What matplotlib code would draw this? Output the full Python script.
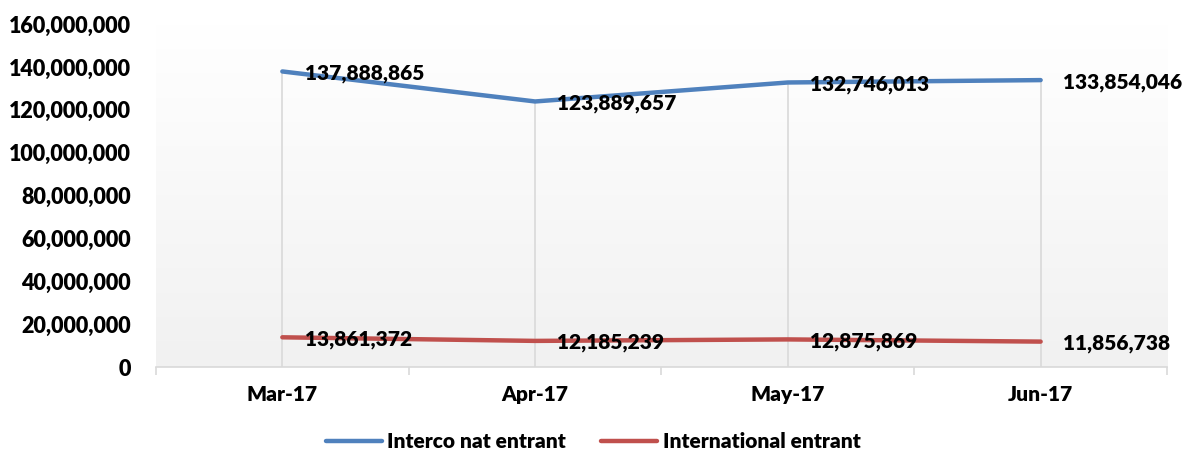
import numpy as np
import matplotlib.pyplot as plt
from matplotlib.ticker import FuncFormatter, FixedLocator

months = ['Mar-17', 'Apr-17', 'May-17', 'Jun-17']
interco_nat = [137888865, 123889657, 132746013, 133854046]
international = [13861372, 12185239, 12875869, 11856738]
y_ticks = [0, 20000000, 40000000, 60000000, 80000000, 100000000, 120000000, 140000000, 160000000]

blue = '#4f81bd'
red = '#c0504d'
axis_color = '#d9d9d9'
fs = 15

plt.rcParams['font.family'] = ['Lato', 'DejaVu Sans']
plt.rcParams['font.weight'] = 'heavy'

fig = plt.figure(figsize=(11.86, 4.54), dpi=100)
ax = fig.add_axes([0.1315, 0.1916, 0.8525, 0.7554])

x = np.arange(len(months))

# gradient background (white at top, light grey at bottom)
grad = np.linspace(1.0, 0.945, 256).reshape(-1, 1)
ax.imshow(np.dstack([grad, grad, grad]), extent=[-0.5, len(months) - 0.5, 0, y_ticks[-1]],
          aspect='auto', origin='upper', zorder=0)

# drop lines
tops = np.maximum(interco_nat, international)
ax.vlines(x, 0, tops, color=axis_color, linewidth=1.2, zorder=1)

ax.plot(x, interco_nat, color=blue, linewidth=3.2, solid_capstyle='round', zorder=3,
        label='Interco nat entrant')
ax.plot(x, international, color=red, linewidth=3.2, solid_capstyle='round', zorder=3,
        label='International entrant')

for series in (interco_nat, international):
    for xi, v in zip(x, series):
        ax.annotate(f'{v:,}', (xi, v), xytext=(16, -1.5), textcoords='offset points',
                    ha='left', va='center', fontsize=fs, fontweight='heavy', zorder=4)

ax.set_xlim(-0.5, len(months) - 0.5)
ax.set_ylim(0, y_ticks[-1])
ax.set_yticks(y_ticks)
ax.yaxis.set_major_formatter(FuncFormatter(lambda v, p: f'{int(v):,}'))
ax.set_xticks(x)
ax.set_xticklabels(months)
ax.xaxis.set_minor_locator(FixedLocator(np.arange(-0.5, len(months), 1.0)))
ax.tick_params(axis='x', which='major', length=0, pad=13, labelsize=fs)
ax.tick_params(axis='x', which='minor', length=6, color=axis_color, width=1.2)
ax.tick_params(axis='y', length=0, pad=18, labelsize=15.5)

for s in ['top', 'right', 'left']:
    ax.spines[s].set_visible(False)
ax.spines['bottom'].set_color(axis_color)
ax.spines['bottom'].set_linewidth(1.2)

leg = fig.legend(loc='lower center', bbox_to_anchor=(0.5, -0.035), ncol=2, frameon=False,
                 fontsize=fs, handlelength=2.7, columnspacing=1.7, handletextpad=0.25)

fig.savefig('out.png', dpi=100)
